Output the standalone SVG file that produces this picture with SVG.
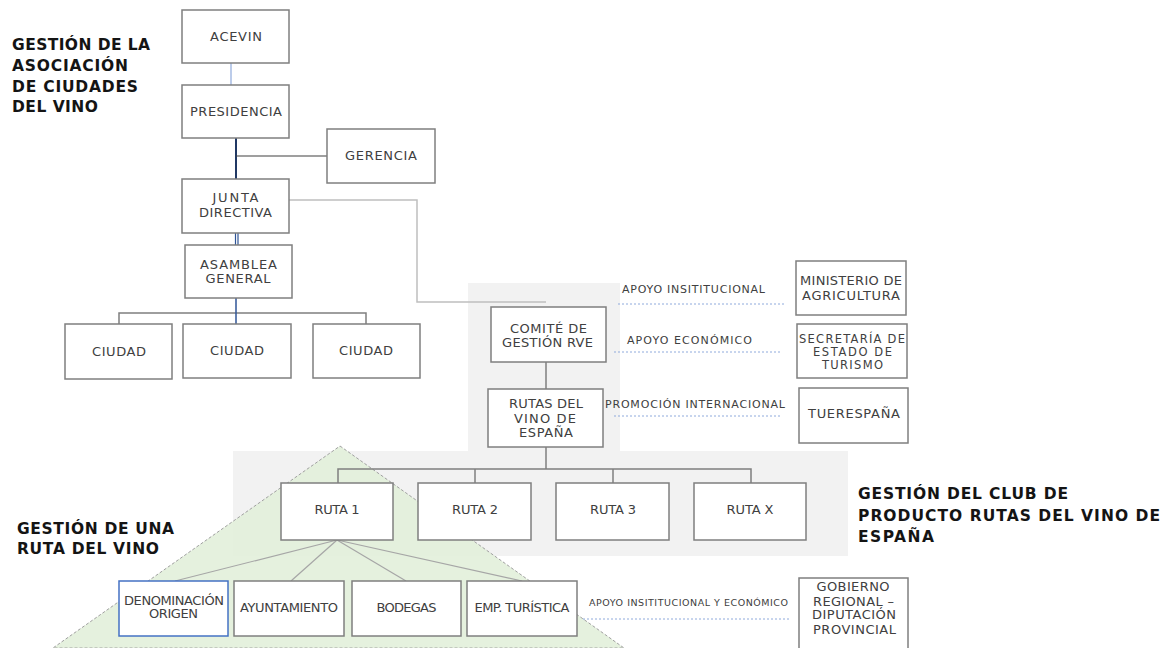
<svg xmlns="http://www.w3.org/2000/svg" width="1168" height="648" viewBox="0 0 1168 648">
<style>
.box{fill:#fff;stroke:#7f7f7f;stroke-width:1.5}
.t{font-family:"DejaVu Sans",sans-serif;font-size:13px;fill:#404040;text-anchor:middle}
.t2{font-size:11.5px}
.h{font-family:"DejaVu Sans",sans-serif;font-weight:bold;font-size:15.5px;fill:#141414}
.lbl{font-family:"DejaVu Sans",sans-serif;font-size:11px;fill:#404040}
.sm{font-family:"DejaVu Sans",sans-serif;font-size:9.5px;fill:#404040}
.dot{stroke:#8faadc;stroke-width:1;stroke-dasharray:2 2;fill:none}
.g{stroke:#7f7f7f;stroke-width:1.5;fill:none}
.lg{stroke:#a6a6a6;stroke-width:1.2;fill:none}
</style>
<rect x="468" y="283" width="152" height="168" fill="#f2f2f2"/>
<rect x="233" y="451" width="615" height="105" fill="#f2f2f2"/>
<polygon points="340,446 624,648 53,648" fill="#e2efda" fill-opacity="0.9" stroke="#a0a0a0" stroke-width="1" stroke-dasharray="3 2"/>
<g id="headings">
<text class="h" x="12" y="50" textLength="138">GESTIÓN DE LA</text>
<text class="h" x="12" y="71" textLength="116">ASOCIACIÓN</text>
<text class="h" x="12" y="92" textLength="126">DE CIUDADES</text>
<text class="h" x="12" y="112" textLength="86">DEL VINO</text>
<text class="h" x="858" y="499" textLength="210">GESTIÓN DEL CLUB DE</text>
<text class="h" x="858" y="521" textLength="302">PRODUCTO RUTAS DEL VINO DE</text>
<text class="h" x="858" y="542" textLength="76">ESPAÑA</text>
<text class="h" x="17" y="534" textLength="157">GESTIÓN DE UNA</text>
<text class="h" x="17" y="554" textLength="142">RUTA DEL VINO</text>
</g>
<g id="connectors">
<line x1="231" y1="63" x2="231" y2="85" stroke="#8faadc" stroke-width="1.2"/>
<line x1="236" y1="138" x2="236" y2="179" stroke="#203864" stroke-width="2"/>
<line x1="236" y1="156" x2="327" y2="156" stroke="#404040" stroke-width="1.2"/>
<line x1="235.5" y1="233" x2="235.5" y2="245" stroke="#2f5597" stroke-width="1.2"/>
<line x1="238" y1="233" x2="238" y2="245" stroke="#2f5597" stroke-width="1.2"/>
<polyline class="g" points="119,324 119,313 366,313 366,324"/>
<line x1="236" y1="298" x2="236" y2="324" stroke="#2f5597" stroke-width="1.5"/>
<polyline points="289,200 417,200 417,302 546,302" fill="none" stroke="#bfbfbf" stroke-width="1.5"/>
<line class="g" x1="546" y1="362" x2="546" y2="389"/>
<line class="g" x1="546" y1="447" x2="546" y2="469"/>
<polyline class="g" points="338,483 338,469 751,469 751,483"/>
<line class="g" x1="475" y1="469" x2="475" y2="483"/>
<line class="g" x1="613" y1="469" x2="613" y2="483"/>
<line class="lg" x1="337" y1="540" x2="175" y2="581"/>
<line class="lg" x1="337" y1="540" x2="291" y2="581"/>
<line class="lg" x1="337" y1="540" x2="406" y2="581"/>
<line class="lg" x1="337" y1="540" x2="522" y2="581"/>
<line class="dot" x1="618" y1="304" x2="785" y2="304"/>
<line class="dot" x1="614" y1="352" x2="781" y2="352"/>
<line class="dot" x1="614" y1="416" x2="780" y2="416"/>
<line class="dot" x1="583" y1="619" x2="791" y2="619"/>
<text class="lbl" x="622" y="293" textLength="143">APOYO INSITITUCIONAL</text>
<text class="lbl" x="627" y="344" textLength="125">APOYO ECONÓMICO</text>
<text class="lbl" x="605" y="408" textLength="180">PROMOCIÓN INTERNACIONAL</text>
<text class="sm" x="589" y="606" textLength="199">APOYO INSITITUCIONAL Y ECONÓMICO</text>
</g>
<g id="acevin"><rect class="box" x="182" y="10" width="107" height="53"/><text class="t" x="236" y="41" textLength="52">ACEVIN</text></g>
<g id="presidencia"><rect class="box" x="182" y="85" width="107" height="53"/><text class="t" x="236" y="116" textLength="92">PRESIDENCIA</text></g>
<g id="gerencia"><rect class="box" x="327" y="129" width="108" height="54"/><text class="t" x="381" y="160" textLength="72">GERENCIA</text></g>
<g id="junta"><rect class="box" x="182" y="179" width="107" height="54"/><text class="t" x="235.5" y="202" textLength="46">JUNTA</text><text class="t" x="235.5" y="217" textLength="73">DIRECTIVA</text></g>
<g id="asamblea"><rect class="box" x="185" y="245" width="107" height="53"/><text class="t" x="238.5" y="269" textLength="77">ASAMBLEA</text><text class="t" x="238" y="283" textLength="65">GENERAL</text></g>
<g id="ciudad1"><rect class="box" x="65" y="324" width="107" height="55"/><text class="t" x="119" y="356" textLength="54">CIUDAD</text></g>
<g id="ciudad2"><rect class="box" x="183" y="324" width="108" height="54"/><text class="t" x="237" y="355" textLength="54">CIUDAD</text></g>
<g id="ciudad3"><rect class="box" x="313" y="324" width="107" height="54"/><text class="t" x="366" y="355" textLength="54">CIUDAD</text></g>
<g id="comite"><rect class="box" x="491" y="307" width="115" height="55"/><text class="t" x="548.5" y="333" textLength="77">COMITÉ DE</text><text class="t" x="547.5" y="347" textLength="91">GESTIÓN RVE</text></g>
<g id="rutas-espana"><rect class="box" x="488" y="389" width="115" height="58"/><text class="t" x="546" y="408" textLength="74">RUTAS DEL</text><text class="t" x="545" y="423" textLength="62">VINO DE</text><text class="t" x="546" y="437" textLength="54">ESPAÑA</text></g>
<g id="ministerio"><rect class="box" x="796" y="261" width="110" height="54"/><text class="t" x="851" y="285" textLength="102">MINISTERIO DE</text><text class="t" x="851" y="300" textLength="98">AGRICULTURA</text></g>
<g id="secretaria"><rect class="box" x="797" y="324" width="110" height="54"/><text class="t t2" x="852" y="343" textLength="106">SECRETARÍA DE</text><text class="t t2" x="852.5" y="356" textLength="79">ESTADO DE</text><text class="t t2" x="852.5" y="369" textLength="61">TURISMO</text></g>
<g id="turespana"><rect class="box" x="799" y="388" width="109" height="55"/><text class="t" x="854" y="418" textLength="92">TUERESPAÑA</text></g>
<g id="ruta1"><rect class="box" x="281" y="483" width="112" height="57"/><text class="t" x="337" y="514" textLength="45">RUTA 1</text></g>
<g id="ruta2"><rect class="box" x="418" y="483" width="113" height="57"/><text class="t" x="475" y="514" textLength="46">RUTA 2</text></g>
<g id="ruta3"><rect class="box" x="556" y="483" width="113" height="57"/><text class="t" x="613" y="514" textLength="46">RUTA 3</text></g>
<g id="rutax"><rect class="box" x="694" y="483" width="112" height="57"/><text class="t" x="750" y="514" textLength="47">RUTA X</text></g>
<g id="denominacion"><rect x="119" y="581" width="109" height="55" fill="#fff" stroke="#4472c4" stroke-width="1.5"/><text class="t" x="174" y="605" textLength="100">DENOMINACIÓN</text><text class="t" x="173.5" y="618" textLength="49">ORIGEN</text></g>
<g id="ayuntamiento"><rect class="box" x="234" y="581" width="110" height="55"/><text class="t" x="289" y="612" textLength="98">AYUNTAMIENTO</text></g>
<g id="bodegas"><rect class="box" x="352" y="581" width="109" height="55"/><text class="t" x="406.5" y="612" textLength="60">BODEGAS</text></g>
<g id="emp-turistica"><rect class="box" x="467" y="581" width="110" height="55"/><text class="t" x="522" y="612" textLength="95">EMP. TURÍSTICA</text></g>
<g id="gobierno"><rect class="box" x="799" y="578" width="109" height="80"/><text class="t" x="853" y="591" textLength="73">GOBIERNO</text><text class="t" x="853.5" y="606" textLength="81">REGIONAL –</text><text class="t" x="854" y="619" textLength="84">DIPUTACIÓN</text><text class="t" x="854.5" y="634" textLength="83">PROVINCIAL</text></g>
</svg>
